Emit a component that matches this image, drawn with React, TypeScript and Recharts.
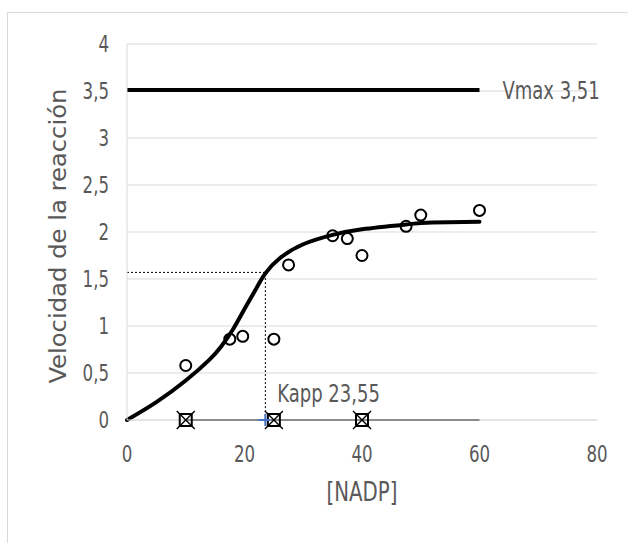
import React from 'react'
import {
  ComposedChart,
  Line,
  Scatter,
  XAxis,
  YAxis,
  CartesianGrid,
  ReferenceDot,
} from 'recharts'

// measured velocities
const substrate = [10, 17.5, 19.7, 25, 27.5, 35, 37.5, 40, 47.5, 50, 60]
const velocity = [0.58, 0.86, 0.89, 0.86, 1.65, 1.96, 1.93, 1.75, 2.06, 2.18, 2.23]

// fitted curve
const fitX = [0, 5, 10, 14, 16, 18, 20, 22, 23.55, 26, 30, 35, 40, 47.5, 52, 60]
const fitY = [0, 0.19, 0.42, 0.64, 0.78, 0.96, 1.18, 1.4, 1.56, 1.72, 1.87, 1.97, 2.03, 2.08, 2.1, 2.11]

// base series on the x axis (marked points + end)
const baseX = [10, 25, 40, 60]
const baseMarked = [true, true, true, false]

const vmax = 3.51
const vmaxRange = [0, 60]
const kapp = 23.55
const halfV = 1.57

const xTicks = [0, 20, 40, 60, 80]
const yTicks = [0, 0.5, 1, 1.5, 2, 2.5, 3, 3.5, 4]

const pointData = substrate.map((x, i) => ({ x, y: velocity[i] }))
const fitData = fitX.map((x, i) => ({ x, y: fitY[i] }))
const baseData = baseX.map((x, i) => ({ x, y: 0, mark: baseMarked[i] }))
const vmaxData = vmaxRange.map((x) => ({ x, y: vmax }))
const kappGuide = [
  { x: 0, y: halfV },
  { x: kapp, y: halfV },
  { x: kapp, y: 0 },
]

const FONT = '"DejaVu Sans Condensed", "DejaVu Sans", sans-serif'
const TEXT = '#595959'
const GRID = '#d9d9d9'
const STRETCH = 1.2 // the source picture is a bit taller than wide

const comma = (v: number) => String(v).replace('.', ',')

// text drawn with the same vertical stretch as the original
const Tall = ({ x, y, size, anchor = 'start', rotate = 0, children }: any) => (
  <text
    transform={`translate(${x} ${y}) scale(1 ${STRETCH}) rotate(${rotate})`}
    textAnchor={anchor}
    dominantBaseline="central"
    fill={TEXT}
    fontSize={size}
    fontFamily={FONT}
  >
    {children}
  </text>
)

const XTick = (props: any) => (
  <Tall x={props.x} y={props.y} size={18.5} anchor="middle">
    {comma(props.payload.value)}
  </Tall>
)

const YTick = (props: any) => (
  <Tall x={props.x} y={props.y} size={18.5} anchor="end">
    {comma(props.payload.value)}
  </Tall>
)

const BoxCross = (props: any) => {
  const { cx, cy, payload } = props
  if (!payload || !payload.mark) return <g />
  return (
    <g>
      <rect x={cx - 6} y={cy - 6} width={12} height={12} fill="none" stroke="#000" strokeWidth={2} />
      <line x1={cx - 9} y1={cy - 9} x2={cx + 9} y2={cy + 9} stroke="#000" strokeWidth={1.5} />
      <line x1={cx - 9} y1={cy + 9} x2={cx + 9} y2={cy - 9} stroke="#000" strokeWidth={1.5} />
    </g>
  )
}

const OpenCircle = (props: any) => (
  <circle cx={props.cx} cy={props.cy} r={5.5} fill="none" stroke="#000" strokeWidth={2} />
)

const BluePlus = (props: any) => (
  <g>
    <line x1={props.cx - 7} y1={props.cy} x2={props.cx + 5} y2={props.cy} stroke="#4472c4" strokeWidth={2} />
    <line x1={props.cx} y1={props.cy - 6} x2={props.cx} y2={props.cy + 6} stroke="#4472c4" strokeWidth={2} />
  </g>
)

const YTitle = (props: any) => {
  const { x, y, height } = props.viewBox
  return (
    <Tall x={x + 50} y={y + height / 2 + 4} size={22.5} anchor="middle" rotate={-90}>
      Velocidad de la reacción
    </Tall>
  )
}

const XTitle = (props: any) => {
  const { x, y, width } = props.viewBox
  return (
    <Tall x={x + width / 2} y={y + 72} size={22} anchor="middle">
      [NADP]
    </Tall>
  )
}

const KappLabel = (props: any) => {
  const { x, y } = props.viewBox
  return (
    <Tall x={x + 16} y={y - 23} size={20}>
      {`Kapp ${comma(kapp)}`}
    </Tall>
  )
}

const VmaxLabel = (props: any) => {
  const { x, y } = props.viewBox
  return (
    <Tall x={x + 23} y={y} size={20}>
      {`Vmax ${comma(vmax)}`}
    </Tall>
  )
}

export default function App() {
  return (
    <div
      style={{
        position: 'absolute',
        left: 7,
        top: 12,
        width: 621,
        height: 531,
        boxSizing: 'border-box',
        borderTop: `1px solid ${GRID}`,
        borderLeft: `1px solid ${GRID}`,
        background: '#fff',
        overflow: 'hidden',
      }}
    >
      <ComposedChart width={620} height={530} margin={{ top: 31, right: 31, bottom: 0, left: 0 }}>
        <CartesianGrid vertical={false} stroke={GRID} />
        <XAxis
          type="number"
          dataKey="x"
          domain={[0, 80]}
          ticks={xTicks}
          height={123}
          stroke={GRID}
          tickLine={false}
          tickMargin={28}
          tick={<XTick />}
          label={<XTitle />}
        />
        <YAxis
          type="number"
          dataKey="y"
          domain={[0, 4]}
          ticks={yTicks}
          width={119}
          stroke={GRID}
          tickLine={false}
          tickMargin={12}
          tick={<YTick />}
          label={<YTitle />}
        />
        <Line
          data={kappGuide}
          dataKey="y"
          type="linear"
          stroke="#000"
          strokeWidth={1}
          strokeDasharray="2 2"
          dot={false}
          isAnimationActive={false}
        />
        <Line
          data={baseData}
          dataKey="y"
          type="linear"
          stroke="#404040"
          strokeWidth={2}
          dot={<BoxCross />}
          isAnimationActive={false}
        />
        <Line
          data={vmaxData}
          dataKey="y"
          type="linear"
          stroke="#000"
          strokeWidth={4}
          dot={false}
          isAnimationActive={false}
        />
        <Line
          data={fitData}
          dataKey="y"
          type="natural"
          stroke="#000"
          strokeWidth={4}
          strokeLinecap="round"
          dot={false}
          isAnimationActive={false}
        />
        <Scatter data={pointData} dataKey="y" shape={<OpenCircle />} isAnimationActive={false} />
        <ReferenceDot x={kapp} y={0} r={4} fill="none" stroke="none" shape={<BluePlus />} label={<KappLabel />} />
        <ReferenceDot x={vmaxRange[1]} y={vmax} r={0} fill="none" stroke="none" label={<VmaxLabel />} />
      </ComposedChart>
    </div>
  )
}
